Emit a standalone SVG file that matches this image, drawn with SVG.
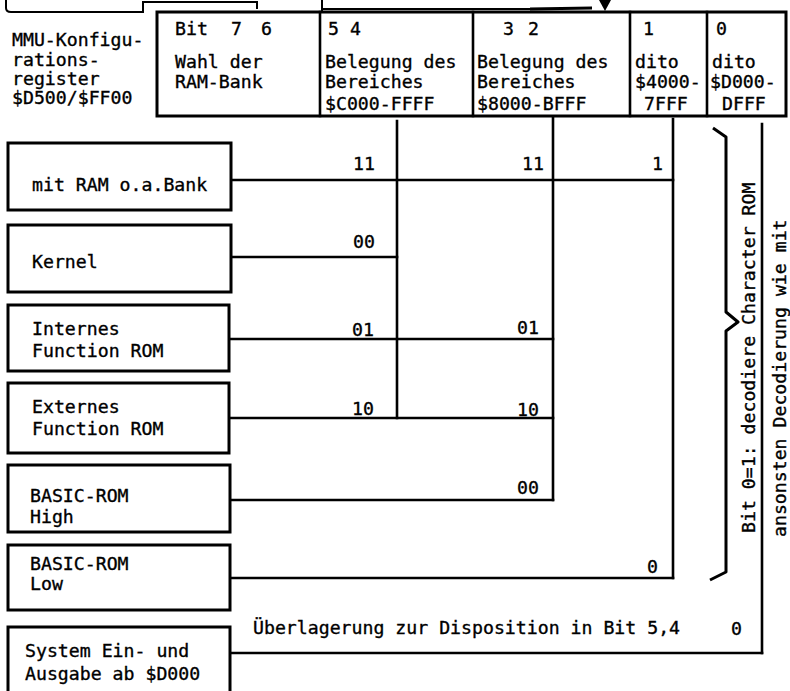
<svg xmlns="http://www.w3.org/2000/svg" width="790" height="691" viewBox="0 0 790 691">
<style>
.t{font-family:"DejaVu Sans Mono","Liberation Mono",monospace;font-size:18.2px;fill:#000;stroke:#000;stroke-width:0.35}
.box{fill:#fff;stroke:#000;stroke-width:3}
.ln{fill:none;stroke:#000;stroke-width:2.6;stroke-linecap:square}
.thin{fill:none;stroke:#000;stroke-width:2}
</style>
<rect width="790" height="691" fill="#fff"/>
<g id="top-fragment">
<path class="thin" d="M6,0 L6,8 Q6,12 11,12 L143,12 L143,2 L257,2 L257,9"/>
<path class="thin" d="M322,0 L322,12 M322,9 L530,9"/>
<path d="M530,9 L592,8" stroke="#000" stroke-width="3"/>
<polygon points="599,0 611,0 605,11" fill="#000"/>
</g>
<g id="register-label">
<text class="t" x="12" y="46">MMU-Konfigu-</text>
<text class="t" x="12" y="66">rations-</text>
<text class="t" x="12" y="85">register</text>
<text class="t" x="12" y="104">$D500/$FF00</text>
</g>
<g id="register">
<rect x="157" y="12" width="629" height="104" fill="#fff" stroke="#000" stroke-width="3"/>
<path class="ln" d="M320,12 V116 M473,12 V116 M630,12 V116 M707,12 V116"/>
<text class="t" x="175" y="35">Bit<tspan x="231">7</tspan><tspan x="261">6</tspan></text>
<text class="t" x="175" y="68">Wahl der</text>
<text class="t" x="175" y="88">RAM-Bank</text>
<text class="t" x="328" y="35">5<tspan x="350">4</tspan></text>
<text class="t" x="325" y="68">Belegung des</text>
<text class="t" x="325" y="88">Bereiches</text>
<text class="t" x="325" y="110">$C000-FFFF</text>
<text class="t" x="503" y="35">3<tspan x="528">2</tspan></text>
<text class="t" x="477" y="68">Belegung des</text>
<text class="t" x="477" y="88">Bereiches</text>
<text class="t" x="477" y="110">$8000-BFFF</text>
<text class="t" x="643" y="35">1</text>
<text class="t" x="635" y="68">dito</text>
<text class="t" x="635" y="88">$4000-</text>
<text class="t" x="644" y="110">7FFF</text>
<text class="t" x="716" y="35">0</text>
<text class="t" x="712" y="68">dito</text>
<text class="t" x="710" y="88">$D000-</text>
<text class="t" x="722" y="110">DFFF</text>
</g>
<g id="connectors">
<path class="ln" d="M231,180 H673"/>
<path class="ln" d="M231,257 H397"/>
<path class="ln" d="M230,339 H553"/>
<path class="ln" d="M230,418 H553"/>
<path class="ln" d="M230,500 H553"/>
<path class="ln" d="M230,578 H673"/>
<path class="ln" d="M230,653 H762"/>
<path class="ln" d="M397,121 V418"/>
<path class="ln" d="M553,118 V500"/>
<path class="ln" d="M673,119 V578"/>
<path class="ln" d="M762,124 V653"/>
<text class="t" x="353" y="170">11</text>
<text class="t" x="522" y="170">11</text>
<text class="t" x="652" y="170">1</text>
<text class="t" x="353" y="248">00</text>
<text class="t" x="352" y="336">01</text>
<text class="t" x="517" y="334">01</text>
<text class="t" x="352" y="415">10</text>
<text class="t" x="517" y="416">10</text>
<text class="t" x="517" y="494">00</text>
<text class="t" x="647" y="573">0</text>
<text class="t" x="253" y="634">Überlagerung zur Disposition in Bit 5,4</text>
<text class="t" x="731" y="635">0</text>
</g>
<g id="brace">
<path d="M713,128 L726,137 L726,312 L738,322 L726,331 L726,572 L710,580" fill="none" stroke="#000" stroke-width="3" stroke-linejoin="round"/>
<text class="t" transform="translate(755,533) rotate(-90)">Bit 0=1: decodiere Character ROM</text>
<text class="t" transform="translate(786,537) rotate(-90)">ansonsten Decodierung wie mit</text>
</g>
<g id="n-ram">
<rect class="box" x="8" y="143" width="223" height="67"/>
<text class="t" x="32" y="191">mit RAM o.a.Bank</text>
</g>
<g id="n-kernel">
<rect class="box" x="8" y="225" width="223" height="67"/>
<text class="t" x="32" y="268">Kernel</text>
</g>
<g id="n-intern">
<rect class="box" x="8" y="305" width="221" height="66"/>
<text class="t" x="32" y="335">Internes</text>
<text class="t" x="32" y="357">Function ROM</text>
</g>
<g id="n-extern">
<rect class="box" x="8" y="383" width="221" height="70"/>
<text class="t" x="32" y="413">Externes</text>
<text class="t" x="32" y="435">Function ROM</text>
</g>
<g id="n-basic-high">
<rect class="box" x="8" y="465" width="222" height="67"/>
<text class="t" x="30" y="502">BASIC-ROM</text>
<text class="t" x="30" y="523">High</text>
</g>
<g id="n-basic-low">
<rect class="box" x="8" y="545" width="222" height="65"/>
<text class="t" x="30" y="570">BASIC-ROM</text>
<text class="t" x="30" y="590">Low</text>
</g>
<g id="n-system">
<rect class="box" x="8" y="627" width="222" height="75"/>
<text class="t" x="25" y="657">System Ein- und</text>
<text class="t" x="25" y="680">Ausgabe ab $D000</text>
</g>
</svg>
